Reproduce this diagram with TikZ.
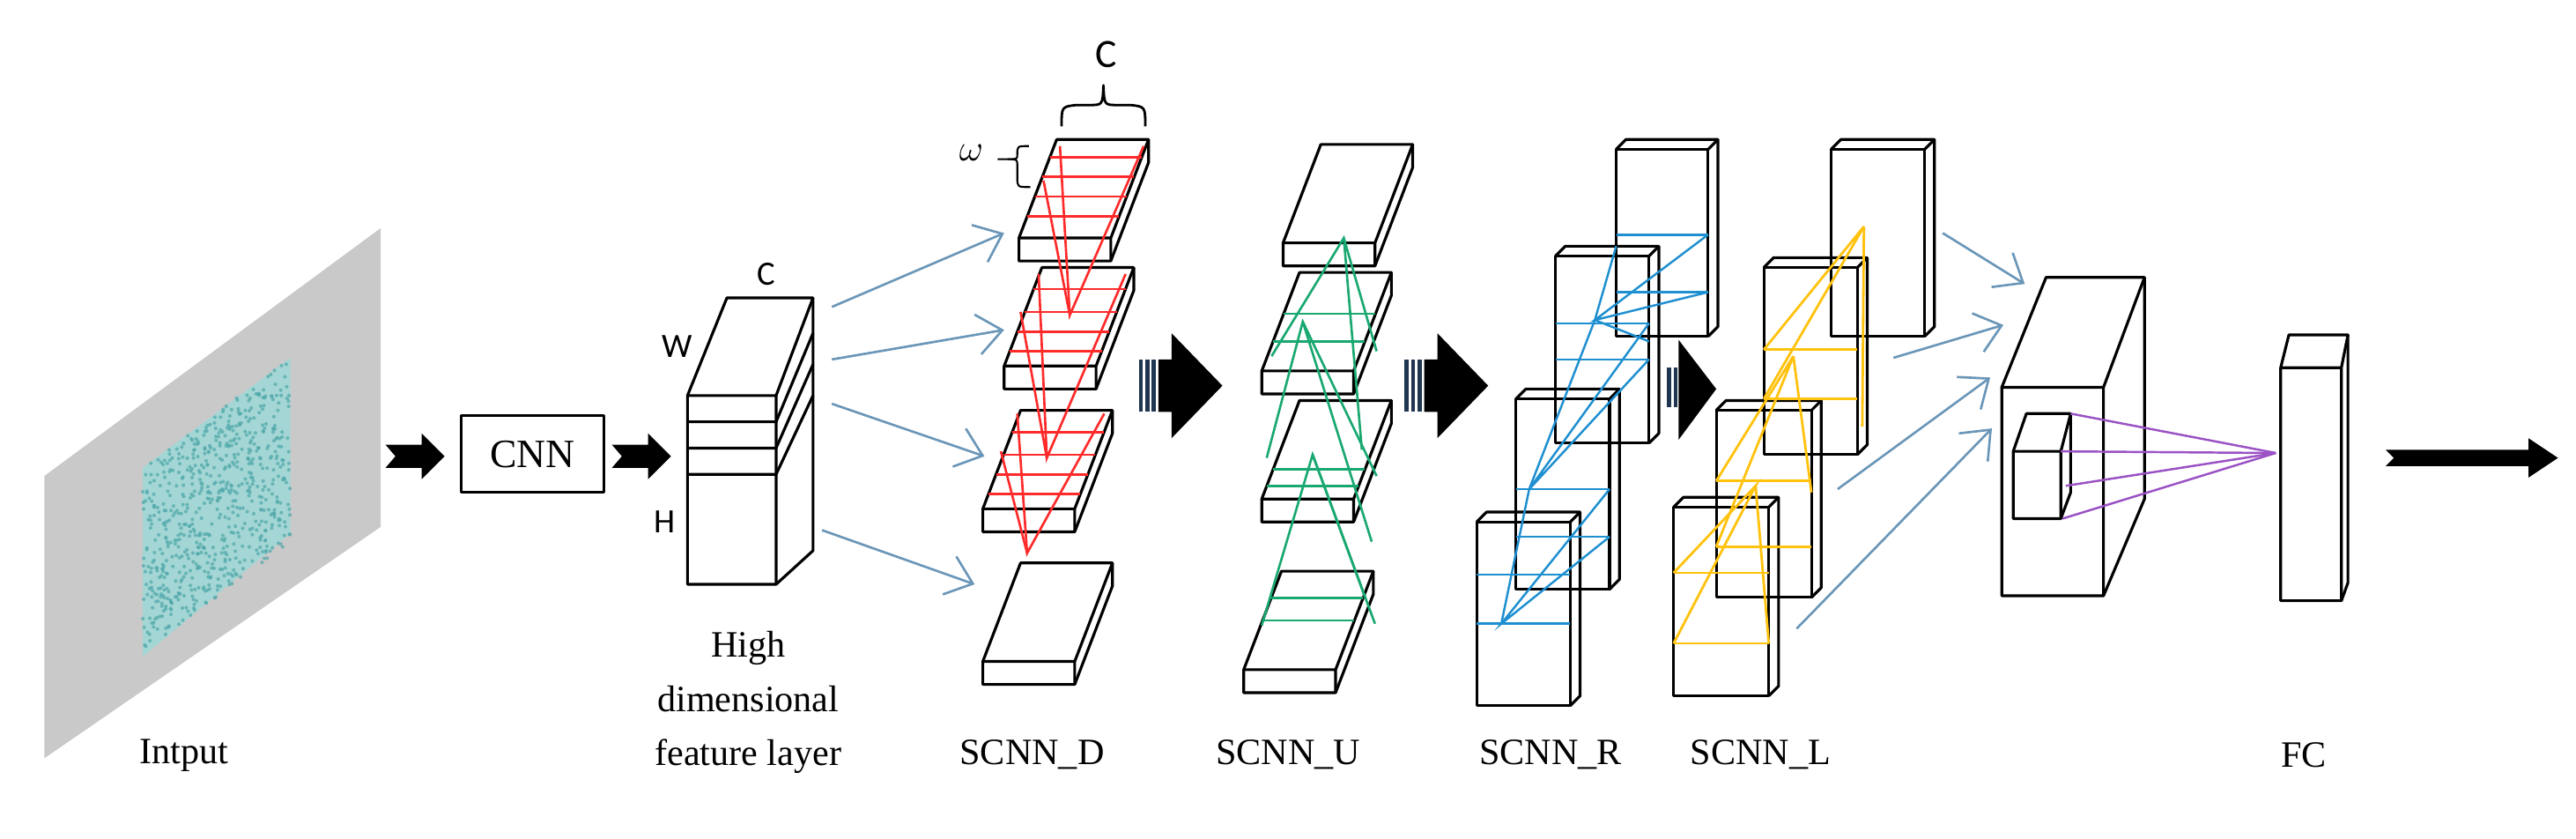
\documentclass[tikz,border=0pt]{standalone}
\usepackage{fontspec}
\setmainfont{Liberation Serif}
\newfontfamily\calib{Carlito}
\usetikzlibrary{arrows.meta}
\definecolor{panelgray}{HTML}{C9C9C9}
\definecolor{tealA}{HTML}{A3D6D4}
\definecolor{tealB}{HTML}{4FA7AA}
\definecolor{arrblue}{HTML}{6A96B8}
\definecolor{redL}{HTML}{FF2A2A}
\definecolor{greenL}{HTML}{19A870}
\definecolor{blueL}{HTML}{1E8FD0}
\definecolor{yellowL}{HTML}{FFC20E}
\definecolor{purpleL}{HTML}{9A52C4}
\definecolor{navy}{HTML}{1F3550}
\tikzset{
  blk/.style={black,line width=0.9pt,line join=round},
  thin arrow/.style={arrblue,line width=0.75pt,-{Straight Barb[length=8pt,width=13pt]}},
  redline/.style={redL,line width=0.75pt},
  greenline/.style={greenL,line width=0.75pt},
  blueline/.style={blueL,line width=0.7pt},
  yellowline/.style={yellowL,line width=0.8pt},
  purpleline/.style={purpleL,line width=0.7pt},
  lab/.style={font=\fontsize{12}{14}\selectfont,inner sep=0pt},
  dim/.style={font=\calib\fontsize{11}{13}\selectfont,inner sep=0pt}
}
\newcommand{\myslab}[2]{%
 \draw[blk,fill=white] (#1,#2) -- ({#1+23},{#2-60}) -- ({#1+79},{#2-60}) -- ({#1+79},{#2-46}) -- ({#1+56},{#2+14}) -- (#1,{#2+14}) -- cycle;
 \draw[blk] (#1,#2) -- ({#1+56},#2) -- ({#1+79},{#2-60}) ({#1+56},#2) -- ({#1+56},{#2+14});}
\newcommand{\sstripe}[4]{\draw[#4] ({#1+23*#3},{#2-60*#3}) -- ({#1+56+23*#3},{#2-60*#3});}
\newcommand{\tbox}[4]{%
 \draw[blk] (#1,#2) rectangle (#3,#4);
 \draw[blk] (#1,#2) -- ({#1+6},{#2-6}) -- ({#3+6},{#2-6}) -- ({#3+6},{#4-6}) -- (#3,#4);
 \draw[blk] (#3,#2) -- ({#3+6},{#2-6});}
\begin{document}
\begin{tikzpicture}[x=0.018624cm,y=-0.018624cm]
\useasboundingbox (0,0) rectangle (1570,511);
% input panel
\fill[panelgray] (27,290) -- (232,139) -- (232,321) -- (27,462) -- cycle;
\fill[tealA] (87,285) -- (177,218) -- (177,325) -- (87,400) -- cycle;
\pgfmathsetseed{7}
\foreach \i in {1,...,700}{
  \pgfmathsetmacro\u{rnd}\pgfmathsetmacro\v{rnd}
  \fill[tealB,opacity=0.7] ({87+90*\u},{285-67*\u+112*\v}) circle (1.1);}
\node[lab] (inp) at (112,460) {Intput};
% small chevron arrows
\fill[black] (235,271) -- (257,271) -- (257,264) -- (271,278) -- (257,292) -- (257,285) -- (235,285) -- (241,278) -- cycle;
\draw[blk] (281,253) rectangle (368,300);
\node[lab,font=\fontsize{13}{15}\selectfont] (cnn) at (324.5,277) {CNN};
\fill[black] (373,271) -- (395,271) -- (395,264) -- (409,278) -- (395,292) -- (395,285) -- (373,285) -- (379,278) -- cycle;
% feature block
\draw[blk,fill=white] (419,241) -- (443,181.5) -- (495.5,181.5) -- (495.5,335.5) -- (473,356) -- (419,356) -- cycle;
\draw[blk] (419,241) -- (473,241) -- (495.5,181.5) (473,241) -- (473,356);
\foreach \yy/\yb in {257/203,273/222,289/241}{
  \draw[blk] (419,\yy) -- (473,\yy) -- (495.5,\yb);}
\node[dim] (lc) at (467,167) {C};
\node[dim] (lw) at (413,211) {W};
\node[dim] (lh) at (405,318) {H};
\node[lab,align=center,font=\fontsize{12}{17.5}\selectfont] (hd) at (456,428) {High\\dimensional\\feature layer};
% thin arrows to SCNN_D
\coordinate (f1) at (507,187); \coordinate (f2) at (507,219);
\coordinate (f3) at (507,246); \coordinate (f4) at (501,323);
\coordinate (d1) at (612,142); \coordinate (d2) at (612,201);
\coordinate (d3) at (600,278); \coordinate (d4) at (594,356);
\draw[thin arrow] (f1) -- (d1); \draw[thin arrow] (f2) -- (d2);
\draw[thin arrow] (f3) -- (d3); \draw[thin arrow] (f4) -- (d4);
% SCNN_D slabs
\myslab{621}{145}\myslab{612}{223}\myslab{599}{310}\myslab{599}{403}
\foreach \u in {0.22,0.42,0.62,0.82}{\sstripe{621}{145}{\u}{redline}}
\foreach \u in {0.15,0.35,0.55,0.78}{\sstripe{612}{223}{\u}{redline}}
\foreach \u in {0.15,0.35,0.55,0.78}{\sstripe{599}{310}{\u}{redline}}
\draw[redline] (646,89) -- (652,192) -- (697,89);
\draw[redline] (636,110) -- (652,192);
\draw[redline] (633,167) -- (638,279) -- (686,167);
\draw[redline] (622,190) -- (638,279);
\draw[redline] (620,252) -- (626,337) -- (673,252);
\draw[redline] (610,275) -- (626,337);
\node[lab] (ld) at (629,460) {SCNN\_D};
% brackets
\draw[blk,line width=0.8pt] (647,77) .. controls (647,65) .. (656,64) -- (664,64) .. controls (672,64) .. (672.5,52) .. controls (673,64) .. (681,64) -- (689,64) .. controls (698,65) .. (698,77);
\node[dim,font=\calib\fontsize{13}{15}\selectfont] (cc) at (674,33) {C};
\draw[black,line width=0.6pt] (627,89) .. controls (620,89) .. (620,94) .. controls (620,97) .. (614,97) -- (608,97);
\draw[black,line width=0.6pt] (614,97) .. controls (620,97) .. (620,101) -- (620,108) .. controls (620,114) .. (628,114);
\node[font=\fontsize{12}{14}\selectfont] (om) at (592,93) {$\omega$};
% big striped arrows
\foreach \x in {694,856}{
  \fill[navy] (\x,219) rectangle ++(2.5,32);
  \fill[navy] (\x+4,219) rectangle ++(2.5,32);
  \fill[navy] (\x+8,219) rectangle ++(2.5,32);
  \fill[black] (\x+12,219) -- (\x+20,219) -- (\x+20,203) -- (\x+51,235) -- (\x+20,267) -- (\x+20,251) -- (\x+12,251) -- cycle;}
\fill[navy] (1016,224) rectangle ++(2.5,24);
\fill[navy] (1020,224) rectangle ++(2.5,24);
\fill[black] (1023,207) -- (1046,237) -- (1023,268) -- cycle;
% SCNN_U
\myslab{782}{148}\myslab{769}{226}\myslab{769}{304}\myslab{758}{408}
\foreach \u in {0.3,0.58}{\sstripe{769}{226}{\u}{greenline}}
\foreach \u in {0.13,0.3}{\sstripe{769}{304}{\u}{greenline}}
\foreach \u in {0.5,0.73}{\sstripe{758}{408}{\u}{greenline}}
\draw[greenline] (775,217) -- (819,145) -- (839,214);
\draw[greenline] (819,145) -- (830,274);
\draw[greenline] (772,279) -- (794,196) -- (839,290);
\draw[greenline] (794,196) -- (836,330);
\draw[greenline] (769,381) -- (800,277) -- (832,364);
\draw[greenline] (800,277) -- (838,380);
\node[lab] (lu) at (785,460) {SCNN\_U};
% SCNN_R
\tbox{985}{91}{1041}{205}\tbox{948}{156}{1005}{270}\tbox{924}{243}{981}{359}\tbox{900}{318}{957}{430}
\foreach \yy in {143,178}{\draw[blueline] (985,\yy) -- (1041,\yy);}
\foreach \yy in {197,219}{\draw[blueline] (948,\yy) -- (1005,\yy);}
\foreach \yy in {298,327}{\draw[blueline] (924,\yy) -- (981,\yy);}
\foreach \yy in {350,380}{\draw[blueline] (900,\yy) -- (957,\yy);}
\draw[blueline] (1041,143) -- (972,195) -- (1041,178);
\draw[blueline] (985,150) -- (972,195) -- (1005,208);
\draw[blueline] (1005,197) -- (932,298) -- (1005,219);
\draw[blueline] (972,195) -- (932,298);
\draw[blueline] (981,298) -- (915,380) -- (981,327);
\draw[blueline] (932,298) -- (915,380);
\node[lab] (lr) at (945,460) {SCNN\_R};
% SCNN_L
\tbox{1116}{91}{1173}{205}\tbox{1075}{163}{1132}{277}\tbox{1046}{250}{1104}{364}\tbox{1020}{309}{1078}{424}
\foreach \yy in {213,243}{\draw[yellowline] (1075,\yy) -- (1132,\yy);}
\foreach \yy in {293,333}{\draw[yellowline] (1046,\yy) -- (1104,\yy);}
\foreach \yy in {349,392}{\draw[yellowline] (1020,\yy) -- (1078,\yy);}
\draw[yellowline] (1075,213) -- (1136,138) -- (1075,243);
\draw[yellowline] (1136,138) -- (1135,260);
\draw[yellowline] (1046,293) -- (1093,217) -- (1046,333);
\draw[yellowline] (1093,217) -- (1104,300);
\draw[yellowline] (1020,349) -- (1070,296) -- (1020,392);
\draw[yellowline] (1070,296) -- (1078,392);
\node[lab] (ll) at (1073,460) {SCNN\_L};
% arrows to final block
\coordinate (s1) at (1184,142); \coordinate (t1) at (1234,173);
\coordinate (s2) at (1154,218); \coordinate (t2) at (1221,198);
\coordinate (s3) at (1120,298); \coordinate (t3) at (1213,230);
\coordinate (s4) at (1095,383); \coordinate (t4) at (1214,261);
\draw[thin arrow] (s1) -- (t1); \draw[thin arrow] (s2) -- (t2);
\draw[thin arrow] (s3) -- (t3); \draw[thin arrow] (s4) -- (t4);
% final block
\draw[blk,fill=white] (1220,236) -- (1247,169) -- (1307,169) -- (1307,304) -- (1282,363) -- (1220,363) -- cycle;
\draw[blk] (1220,236) -- (1282,236) -- (1307,169) (1282,236) -- (1282,363);
\draw[blk,fill=white] (1227,275) -- (1235,252) -- (1262,252) -- (1262,300) -- (1256,316) -- (1227,316) -- cycle;
\draw[blk] (1227,275) -- (1256,275) -- (1262,252) (1256,275) -- (1256,316);
\coordinate (pa) at (1387,276);
\draw[purpleline] (1262,252) -- (pa);
\draw[purpleline] (1256,275) -- (pa);
\draw[purpleline] (1259,296) -- (pa);
\draw[purpleline] (1257,316) -- (pa);
% FC
\draw[blk,fill=white] (1390,224) -- (1395,204) -- (1431,204) -- (1431,355) -- (1427,366) -- (1390,366) -- cycle;
\draw[blk] (1390,224) -- (1427,224) -- (1431,204) (1427,224) -- (1427,366);
\node[lab] (lf) at (1404,460) {FC};
% output arrow
\fill[black] (1454,274) -- (1541,274) -- (1541,267) -- (1559,279) -- (1541,291) -- (1541,284) -- (1454,284) -- (1459,279) -- cycle;
\end{tikzpicture}
\end{document}
